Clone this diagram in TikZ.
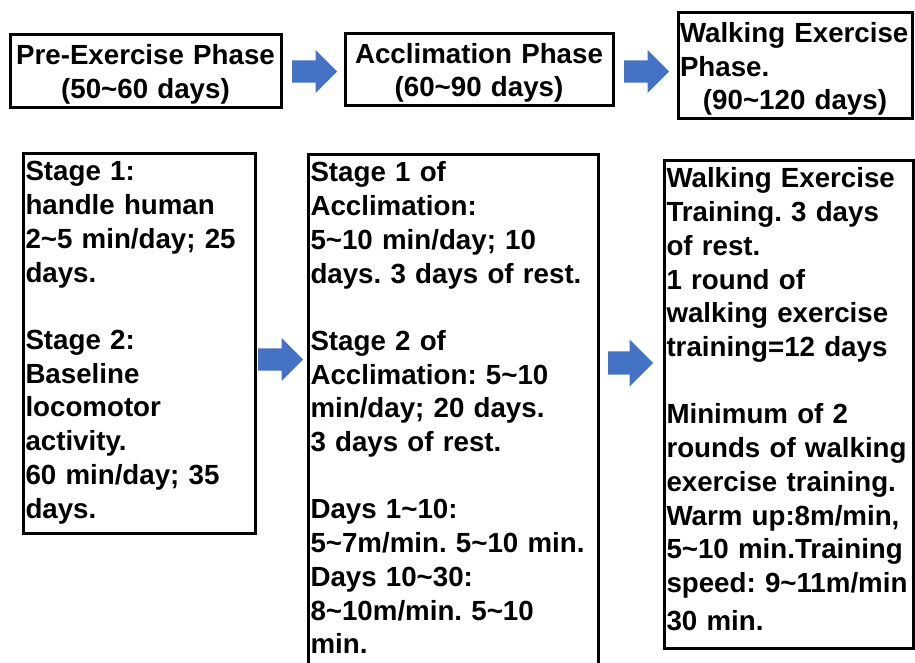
\documentclass[tikz,border=0pt]{standalone}
\usepackage{fontspec}
\setmainfont{Liberation Sans}
\frenchspacing
\usetikzlibrary{shapes.arrows}
\definecolor{arrowblue}{HTML}{4472C4}
\newcommand{\til}{\textasciitilde}
\tikzset{%
  % Specifications for style of nodes:
        base/.style = {rectangle, draw=black, line width=3pt, outer sep=0pt,
                       font=\bfseries\fontsize{27.7}{33.7}\selectfont},
       phase/.style = {base, align=center, inner sep=2pt, text height=26pt},
    stagebox/.style = {base, anchor=north west, align=left,
                       inner xsep=2.5pt, inner ysep=7pt, text height=20pt},
  blockarrow/.style = {single arrow, draw=none, fill=arrowblue, anchor=tail,
                       inner xsep=0pt, inner ysep=11pt, minimum height=45pt,
                       single arrow head extend=10.5pt},
}

\begin{document}
\begin{tikzpicture}[x=1pt, y=-1pt]
  \useasboundingbox (0,0) rectangle (915,663);
  \clip (0,0) rectangle (915,663);
  % Specification of nodes (position, etc.)
  \node (preEx) [phase, text width=267pt, minimum height=73pt] at (145.5,71.5)
    {Pre-Exercise Phase\\(50\til60 days)};
  \node (acclim) [phase, text width=264pt, minimum height=72pt] at (479,70)
    {Acclimation Phase\\(60\til90 days)};
  \node (walkPh) [phase, align=left, text width=230pt, minimum height=106pt] at (795,66)
    {Walking Exercise\\Phase.\\\hspace*{\fill}(90\til120 days)\hspace*{\fill}\null};
  \node (preStages) [stagebox, text width=227pt] at (23,154)
    {Stage 1:\\handle human\\2\til5 min/day; 25\\days.\\[33.7pt]Stage 2:\\Baseline\\locomotor\\activity.\\60 min/day; 35\\days.\rule[-8pt]{0pt}{0pt}};
  \node (acclimStages) [stagebox, text width=285pt] at (308,155)
    {Stage 1 of\\Acclimation:\\5\til10 min/day; 10\\days. 3 days of rest.\\[33.7pt]Stage 2 of\\Acclimation: 5\til10\\min/day; 20 days.\\3 days of rest.\\[33.7pt]Days 1\til10:\\5\til7m/min. 5\til10 min.\\Days 10\til30:\\8\til10m/min. 5\til10\\min.\rule[-14pt]{0pt}{0pt}};
  \node (walkStages) [stagebox, text width=244pt] at (664,161)
    {Walking Exercise\\Training. 3 days\\of rest.\\1 round of\\walking exercise\\training=12 days\\[33.7pt]Minimum of 2\\rounds of walking\\exercise training.\\Warm up:8m/min,\\5\til10 min.Training\\speed: 9\til11m/min\\[4pt]30 min.\rule[-11pt]{0pt}{0pt}};
  % Block arrows between the boxes
  \node (arrowA) [blockarrow] at (292,71.5) {};
  \node (arrowB) [blockarrow] at (624,71.5) {};
  \node (arrowC) [blockarrow] at (258,359.5) {};
  \node (arrowD) [blockarrow, inner ysep=11.5pt, single arrow head extend=12pt] at (608,363) {};
\end{tikzpicture}
\end{document}
